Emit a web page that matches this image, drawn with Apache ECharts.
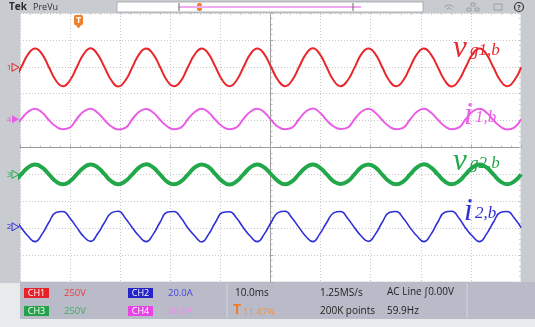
<!DOCTYPE html>
<html>
<head>
<meta charset="utf-8">
<style>
  html, body { margin: 0; padding: 0; background: #e9eaec; }
  #chart { width: 535px; height: 327px; }
</style>
<script src="https://cdn.jsdelivr.net/npm/echarts@6/dist/echarts.min.js"></script>
</head>
<body>
<div id="chart"></div>
<script>
// sample times (ms, relative to trigger), read at every 1/8 period
const timeMs = [-51.15,
  -49.76, -48.37, -46.99, -45.60, -44.22, -42.83, -41.44, -40.06,
  -38.67, -37.29, -35.90, -34.51, -33.13, -31.74, -30.36, -28.97,
  -27.58, -26.20, -24.81, -23.43, -22.04, -20.65, -19.27, -17.88,
  -16.50, -15.11, -13.72, -12.34, -10.95, -9.57, -8.18, -6.79,
  -5.41, -4.02, -2.64, -1.25, 0.14, 1.52, 2.91, 4.29,
  5.68, 7.07, 8.45, 9.84, 11.22, 12.61, 14.00, 15.38,
  16.77, 18.15, 19.54, 20.93, 22.31, 23.70, 25.08, 26.47,
  27.86, 29.24, 30.63, 32.01, 33.40, 34.79, 36.17, 37.56,
  38.94, 40.33, 41.72, 43.10, 44.49, 45.87, 47.26, 48.65,
  50.03];

// screen position of each trace, in divisions (0 = centre line)
const vg1 = [2.49,
  2.98, 3.47, 3.68, 3.47, 2.98, 2.49, 2.28, 2.49,
  2.98, 3.47, 3.69, 3.46, 2.98, 2.49, 2.27, 2.49,
  2.98, 3.47, 3.68, 3.47, 2.99, 2.49, 2.28, 2.48,
  2.98, 3.46, 3.68, 3.47, 2.98, 2.49, 2.28, 2.49,
  2.98, 3.47, 3.68, 3.47, 2.98, 2.50, 2.28, 2.49,
  2.98, 3.47, 3.69, 3.47, 2.98, 2.49, 2.28, 2.49,
  2.97, 3.47, 3.68, 3.47, 2.98, 2.49, 2.28, 2.49,
  2.98, 3.47, 3.68, 3.46, 2.98, 2.49, 2.27, 2.49,
  2.98, 3.47, 3.68, 3.47, 2.98, 2.49, 2.28, 2.49,
  2.98];

const i1 = [0.74,
  1.05, 1.33, 1.44, 1.30, 1.02, 0.78, 0.68, 0.74,
  1.06, 1.34, 1.44, 1.29, 1.02, 0.78, 0.67, 0.73,
  1.05, 1.33, 1.43, 1.30, 1.03, 0.79, 0.68, 0.74,
  1.05, 1.32, 1.44, 1.30, 1.02, 0.78, 0.68, 0.75,
  1.06, 1.33, 1.44, 1.31, 1.02, 0.77, 0.68, 0.74,
  1.05, 1.34, 1.45, 1.30, 1.01, 0.78, 0.69, 0.74,
  1.05, 1.33, 1.44, 1.29, 1.02, 0.78, 0.68, 0.73,
  1.04, 1.33, 1.44, 1.30, 1.03, 0.79, 0.68, 0.74,
  1.05, 1.34, 1.44, 1.30, 1.02, 0.78, 0.67, 0.74,
  1.05];

const vg2 = [-1.26,
  -1.00, -0.74, -0.63, -0.74, -1.00, -1.26, -1.37, -1.26,
  -1.00, -0.75, -0.63, -0.74, -0.99, -1.26, -1.37, -1.25,
  -1.00, -0.74, -0.62, -0.74, -1.00, -1.27, -1.37, -1.26,
  -1.01, -0.74, -0.63, -0.73, -1.00, -1.26, -1.38, -1.26,
  -1.00, -0.74, -0.63, -0.74, -1.00, -1.25, -1.37, -1.26,
  -0.99, -0.74, -0.63, -0.75, -1.00, -1.26, -1.36, -1.26,
  -1.00, -0.73, -0.63, -0.74, -1.01, -1.26, -1.37, -1.27,
  -1.00, -0.74, -0.62, -0.74, -1.00, -1.26, -1.37, -1.26,
  -1.00, -0.74, -0.63, -0.74, -1.00, -1.26, -1.37, -1.26,
  -1.00];

const i2 = [-2.62,
  -2.98, -3.30, -3.50, -3.22, -2.78, -2.42, -2.38, -2.62,
  -2.97, -3.31, -3.49, -3.21, -2.79, -2.43, -2.37, -2.63,
  -2.98, -3.30, -3.50, -3.23, -2.78, -2.41, -2.38, -2.61,
  -2.99, -3.29, -3.51, -3.22, -2.77, -2.42, -2.39, -2.62,
  -2.98, -3.30, -3.50, -3.22, -2.78, -2.42, -2.37, -2.62,
  -2.97, -3.31, -3.50, -3.21, -2.79, -2.43, -2.38, -2.63,
  -2.98, -3.30, -3.49, -3.22, -2.78, -2.42, -2.38, -2.62,
  -2.98, -3.29, -3.50, -3.23, -2.77, -2.41, -2.37, -2.61,
  -2.99, -3.30, -3.50, -3.22, -2.78, -2.42, -2.38, -2.62,
  -2.98];

// channel offsets (divisions) for the ground markers on the left
const channelNames = ["1", "4", "3", "2"];
const channelOffsets = [2.98, 1.05, -1.0, -2.95];
const channelColors = ["#e8262c", "#e95de6", "#22a84a", "#2f2fd8"];
const channelFilled = [false, true, false, false];

const UI_FONT = "'Open Sans', 'Noto Sans', sans-serif";
const MATH_FONT = "'Liberation Serif', 'DejaVu Serif', serif";

const chart = echarts.init(document.getElementById("chart"), null, { renderer: "canvas" });

function toPairs(values) {
  return values.map((v, i) => [timeMs[i], v]);
}

function traceSeries(name, values, color, width) {
  return {
    name,
    type: "line",
    data: toPairs(values),
    showSymbol: false,
    smooth: 0.5,
    clip: true,
    lineStyle: { color, width },
    z: 3,
  };
}

const tickStyle = { show: true, inside: true, length: 3, lineStyle: { color: "#aaa" } };
const minorTick = { show: true, splitNumber: 5, length: 2, lineStyle: { color: "#bbb" } };
const edgeTick = { show: true, inside: true, length: 2, lineStyle: { color: "#c6c6c6" } };
const edgeMinor = { show: true, splitNumber: 5, length: 2, lineStyle: { color: "#cfcfcf" } };
const hidden = { show: false };

function edgeX(position) {
  return {
    type: "value", min: -50, max: 50, interval: 10, position,
    axisLine: { show: false, onZero: false }, axisTick: edgeTick, minorTick: edgeMinor,
    axisLabel: hidden, splitLine: hidden,
  };
}
function edgeY(position) {
  return {
    type: "value", min: -5, max: 5, interval: 1, position,
    axisLine: { show: false, onZero: false }, axisTick: edgeTick, minorTick: edgeMinor,
    axisLabel: hidden, splitLine: hidden,
  };
}

chart.setOption({
  animation: false,
  backgroundColor: "#e9eaec",
  grid: {
    left: 20, right: 14, top: 13, bottom: 45,
    show: true, backgroundColor: "#ffffff", borderColor: "#d6d6d6", borderWidth: 1,
  },
  xAxis: [{
    type: "value", min: -50, max: 50, interval: 10,
    axisLine: { onZero: true, lineStyle: { color: "#9a9a9a" } },
    axisTick: tickStyle, minorTick,
    axisLabel: hidden,
    splitLine: { show: true, lineStyle: { color: "#c8c8c8", type: [1, 2] } },
  }, edgeX("top")],
  yAxis: [{
    type: "value", min: -5, max: 5, interval: 1,
    axisLine: { show: true, onZero: true, lineStyle: { color: "#9a9a9a" } },
    axisTick: tickStyle, minorTick,
    axisLabel: hidden,
    splitLine: { show: true, lineStyle: { color: "#c8c8c8", type: [1, 2] } },
  }, edgeY("right")],
  series: [
    traceSeries("vg1", vg1, "#e8262c", 2),
    traceSeries("i1", i1, "#e95de6", 2),
    traceSeries("vg2", vg2, "#22a84a", 4),
    traceSeries("i2", i2, "#2f2fd8", 1.6),
  ],
});

// oscilloscope chrome, labels and channel markers
const g = [];
const rect = (x, y, w, h, fill, extra) =>
  g.push(Object.assign({ type: "rect", shape: { x, y, width: w, height: h }, style: { fill }, silent: true }, extra || {}));
const text = (x, y, t, style) =>
  g.push({ type: "text", x, y, silent: true, z: 10,
    style: Object.assign({ text: t, font: "10px " + UI_FONT, fill: "#222", verticalAlign: "middle" }, style) });
const line = (x1, y1, x2, y2, stroke, lw) =>
  g.push({ type: "line", shape: { x1, y1, x2, y2 }, style: { stroke, lineWidth: lw || 1 }, silent: true, z: 10 });

// frame strips
rect(0, 0, 535, 13, "#c8cbcf");
rect(0, 0, 20, 283, "#c8cbcf");
rect(521, 0, 14, 283, "#c8cbcf");
rect(20, 282, 515, 37, "#b9bcc8");

// top bar
text(9, 7, "Tek", { font: "bold 10px " + UI_FONT, fill: "#2a2a2a" });
text(33, 7, "PreVu", { font: "9px " + UI_FONT, fill: "#333" });
rect(117, 2, 306, 10, "#ffffff", { style: { fill: "#ffffff", stroke: "#9da1a6", lineWidth: 0.8 } });
line(179, 7, 361, 7, "#f1a9ef", 2);
line(179, 3, 179, 11, "#666", 1);
line(353, 3, 353, 11, "#666", 1);
rect(197, 3, 5, 8, "#f0802a", { shape: { x: 197, y: 3, width: 5, height: 8, r: 2 } });
// top-right icons
g.push({ type: "circle", shape: { cx: 519, cy: 7, r: 4.5 }, style: { fill: "none", stroke: "#333", lineWidth: 1.2 }, silent: true, z: 10 });
text(519, 7.5, "?", { font: "bold 7px " + UI_FONT, fill: "#333", align: "center" });
rect(494, 4, 8, 6, "none", { style: { fill: "none", stroke: "#9a9ea3", lineWidth: 1 }, z: 10 });
rect(471, 3, 4, 3, "none", { style: { fill: "none", stroke: "#9a9ea3", lineWidth: 1 }, z: 10 });
rect(467, 8, 4, 3, "none", { style: { fill: "none", stroke: "#9a9ea3", lineWidth: 1 }, z: 10 });
rect(475, 8, 4, 3, "none", { style: { fill: "none", stroke: "#9a9ea3", lineWidth: 1 }, z: 10 });
g.push({ type: "arc", shape: { cx: 449, cy: 11, r: 6, startAngle: -Math.PI * 0.8, endAngle: -Math.PI * 0.2 },
  style: { fill: "none", stroke: "#9a9ea3", lineWidth: 1 }, silent: true, z: 10 });
g.push({ type: "arc", shape: { cx: 449, cy: 11, r: 3, startAngle: -Math.PI * 0.8, endAngle: -Math.PI * 0.2 },
  style: { fill: "none", stroke: "#9a9ea3", lineWidth: 1 }, silent: true, z: 10 });

// trigger position marker
rect(74, 15, 9, 10, "#f0802a", { shape: { x: 74, y: 15, width: 9, height: 10, r: 1.5 }, z: 10 });
g.push({ type: "polygon", shape: { points: [[75, 24], [82, 24], [78.5, 28.5]] }, style: { fill: "#f0802a" }, silent: true, z: 10 });
text(78.5, 20.5, "T", { font: "bold 9px " + UI_FONT, fill: "#ffffff", align: "center" });

// channel ground markers
channelNames.forEach((name, i) => {
  const y = chart.convertToPixel({ yAxisIndex: 0 }, channelOffsets[i]);
  const c = channelColors[i];
  text(9, y, name, { font: "8px " + UI_FONT, fill: c, align: "center" });
  g.push({ type: "polygon", shape: { points: [[12, y - 4], [19, y], [12, y + 4]] },
    style: channelFilled[i] ? { fill: c } : { fill: "none", stroke: c, lineWidth: 1 }, silent: true, z: 10 });
});

// trace labels
const mathLabel = (x, y, main, sub, color, subDx) => {
  text(x, y, main, { font: "italic 31px " + MATH_FONT, fill: color, verticalAlign: "alphabetic" });
  text(x + subDx, y + 9, sub, { font: "italic 17px " + MATH_FONT, fill: color, verticalAlign: "alphabetic" });
};
mathLabel(453, 33, "v", "g1,b", "#e8262c", 17);
mathLabel(464, 100, "i", "1,b", "#ea5fe6", 11);
mathLabel(453, 146, "v", "g2,b", "#22a84a", 17);
mathLabel(464, 196, "i", "2,b", "#2f2fd8", 11);

// bottom readout panel
line(227, 284, 227, 318, "#d3d6dd", 1);
line(467, 284, 467, 318, "#d3d6dd", 1);
const chBox = (x, y, label, fill) => {
  rect(x, y, 25, 10, fill, { z: 10 });
  text(x + 12.5, y + 5.5, label, { font: "9px " + UI_FONT, fill: "#ffffff", align: "center" });
};
chBox(24, 288, "CH1", "#e8202a");
text(64, 293.5, "250V", { fill: "#e83a44", font: "9.5px " + UI_FONT });
chBox(24, 306, "CH3", "#23a24a");
text(64, 311.5, "250V", { fill: "#46a960", font: "9.5px " + UI_FONT });
chBox(128, 288, "CH2", "#2424c8");
text(168, 293.5, "20.0A", { fill: "#4646d8", font: "9.5px " + UI_FONT });
chBox(128, 306, "CH4", "#e844e4");
text(168, 311.5, "20.0A", { fill: "#ee8aea", font: "9.5px " + UI_FONT });
text(235, 293.5, "10.0ms", { font: "10px " + UI_FONT });
text(233, 310.5, "T", { font: "bold 14px " + UI_FONT, fill: "#f07a28" });
text(243, 312, "11.47%", { font: "9.5px " + UI_FONT, fill: "#f0924a" });
text(320, 293.5, "1.25MS/s", { font: "10px " + UI_FONT });
text(320, 311.5, "200K points", { font: "10px " + UI_FONT });
text(387, 292, "AC Line \u222B0.00V", { font: "10px " + UI_FONT });
text(387, 311.5, "59.9Hz", { font: "10px " + UI_FONT });

chart.setOption({ graphic: { elements: g } });
</script>
</body>
</html>
